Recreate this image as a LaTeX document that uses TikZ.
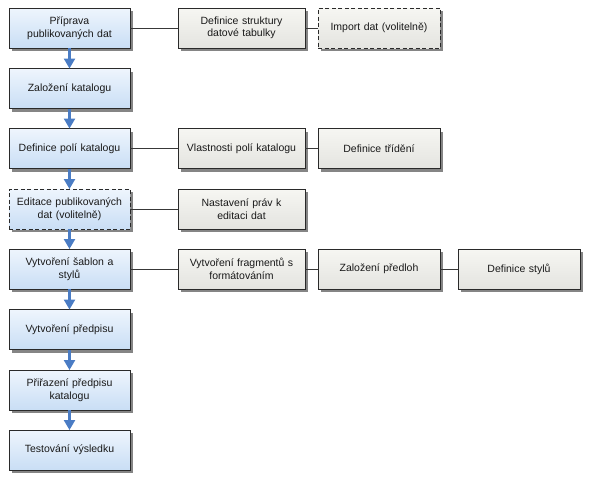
\documentclass[tikz,border=0pt]{standalone}
\usepackage{fontspec}
\setmainfont{Liberation Sans}
\usetikzlibrary{shadows,arrows.meta}
\definecolor{bluetop}{HTML}{EEF5FD}
\definecolor{bluebot}{HTML}{C9DEF5}
\definecolor{graytop}{HTML}{F6F6F2}
\definecolor{graybot}{HTML}{E4E4E0}
\definecolor{bordc}{HTML}{2A2A2A}
\definecolor{arrc}{HTML}{4A7CC4}
\definecolor{linec}{HTML}{383838}
\tikzset{
  x=1pt, y=-1pt,
  base/.style={draw=bordc, line width=0.9pt, minimum height=40pt, text width=117pt, align=center,
    font=\fontsize{10.5}{12.5}\selectfont, text=black!90, inner sep=2pt,
    drop shadow={shadow xshift=3pt, shadow yshift=-3pt, fill=black!48, opacity=1}},
  stepbox/.style={base, minimum width=121pt, top color=bluetop, bottom color=bluebot},
  subbox/.style={base, minimum width=127pt, top color=graytop, bottom color=graybot},
  subboxn/.style={base, minimum width=122pt, text width=118pt, top color=graytop, bottom color=graybot},
  opt/.style={dashed, dash pattern=on 4pt off 2.5pt},
  flow/.style={draw=arrc, line width=2.2pt, -{Triangle[length=10pt,width=11pt]}, shorten >=-0.5pt},
  link/.style={draw=linec, line width=0.9pt},
}
\begin{document}
\begin{tikzpicture}
\useasboundingbox (0,0) rectangle (592,483);
% left column
\node[stepbox] (s1) at (69.5,28) {Příprava\\publikovaných dat};
\node[stepbox] (s2) at (69.5,88.5) {Založení katalogu};
\node[stepbox] (s3) at (69.5,148.5) {Definice polí katalogu};
\node[stepbox,opt] (s4) at (69.5,209) {Editace publikovaných\\dat (volitelně)};
\node[stepbox] (s5) at (69.5,269) {Vytvoření šablon a\\stylů};
\node[stepbox] (s6) at (69.5,329.5) {Vytvoření předpisu};
\node[stepbox] (s7) at (69.5,390) {Přiřazení předpisu\\katalogu};
\node[stepbox] (s8) at (69.5,450) {Testování výsledku};
% second column
\node[subbox] (a1) at (241.5,28) {Definice struktury\\datové tabulky};
\node[subboxn,opt] (b1) at (379,28) {Import dat (volitelně)};
\node[subbox] (a3) at (241.5,148.5) {Vlastnosti polí katalogu};
\node[subboxn] (b3) at (379,148.5) {Definice třídění};
\node[subbox] (a4) at (241.5,209) {Nastavení práv k\\editaci dat};
\node[subbox] (a5) at (241.5,269) {Vytvoření fragmentů s\\formátováním};
\node[subboxn] (b5) at (379,269) {Založení předloh};
\node[subboxn] (c5) at (519,269) {Definice stylů};
% flow arrows
\foreach \a/\b in {s1/s2,s2/s3,s3/s4,s4/s5,s5/s6,s6/s7,s7/s8}
  \draw[flow] (\a.south) -- (\b.north);
% links
\draw[link] (s1.east) -- (a1.west);
\draw[link] (a1.east) -- (b1.west);
\draw[link] (s3.east) -- (a3.west);
\draw[link] (a3.east) -- (b3.west);
\draw[link] (s4.east) -- (a4.west);
\draw[link] (s5.east) -- (a5.west);
\draw[link] (a5.east) -- (b5.west);
\draw[link] (b5.east) -- (c5.west);
\end{tikzpicture}
\end{document}
